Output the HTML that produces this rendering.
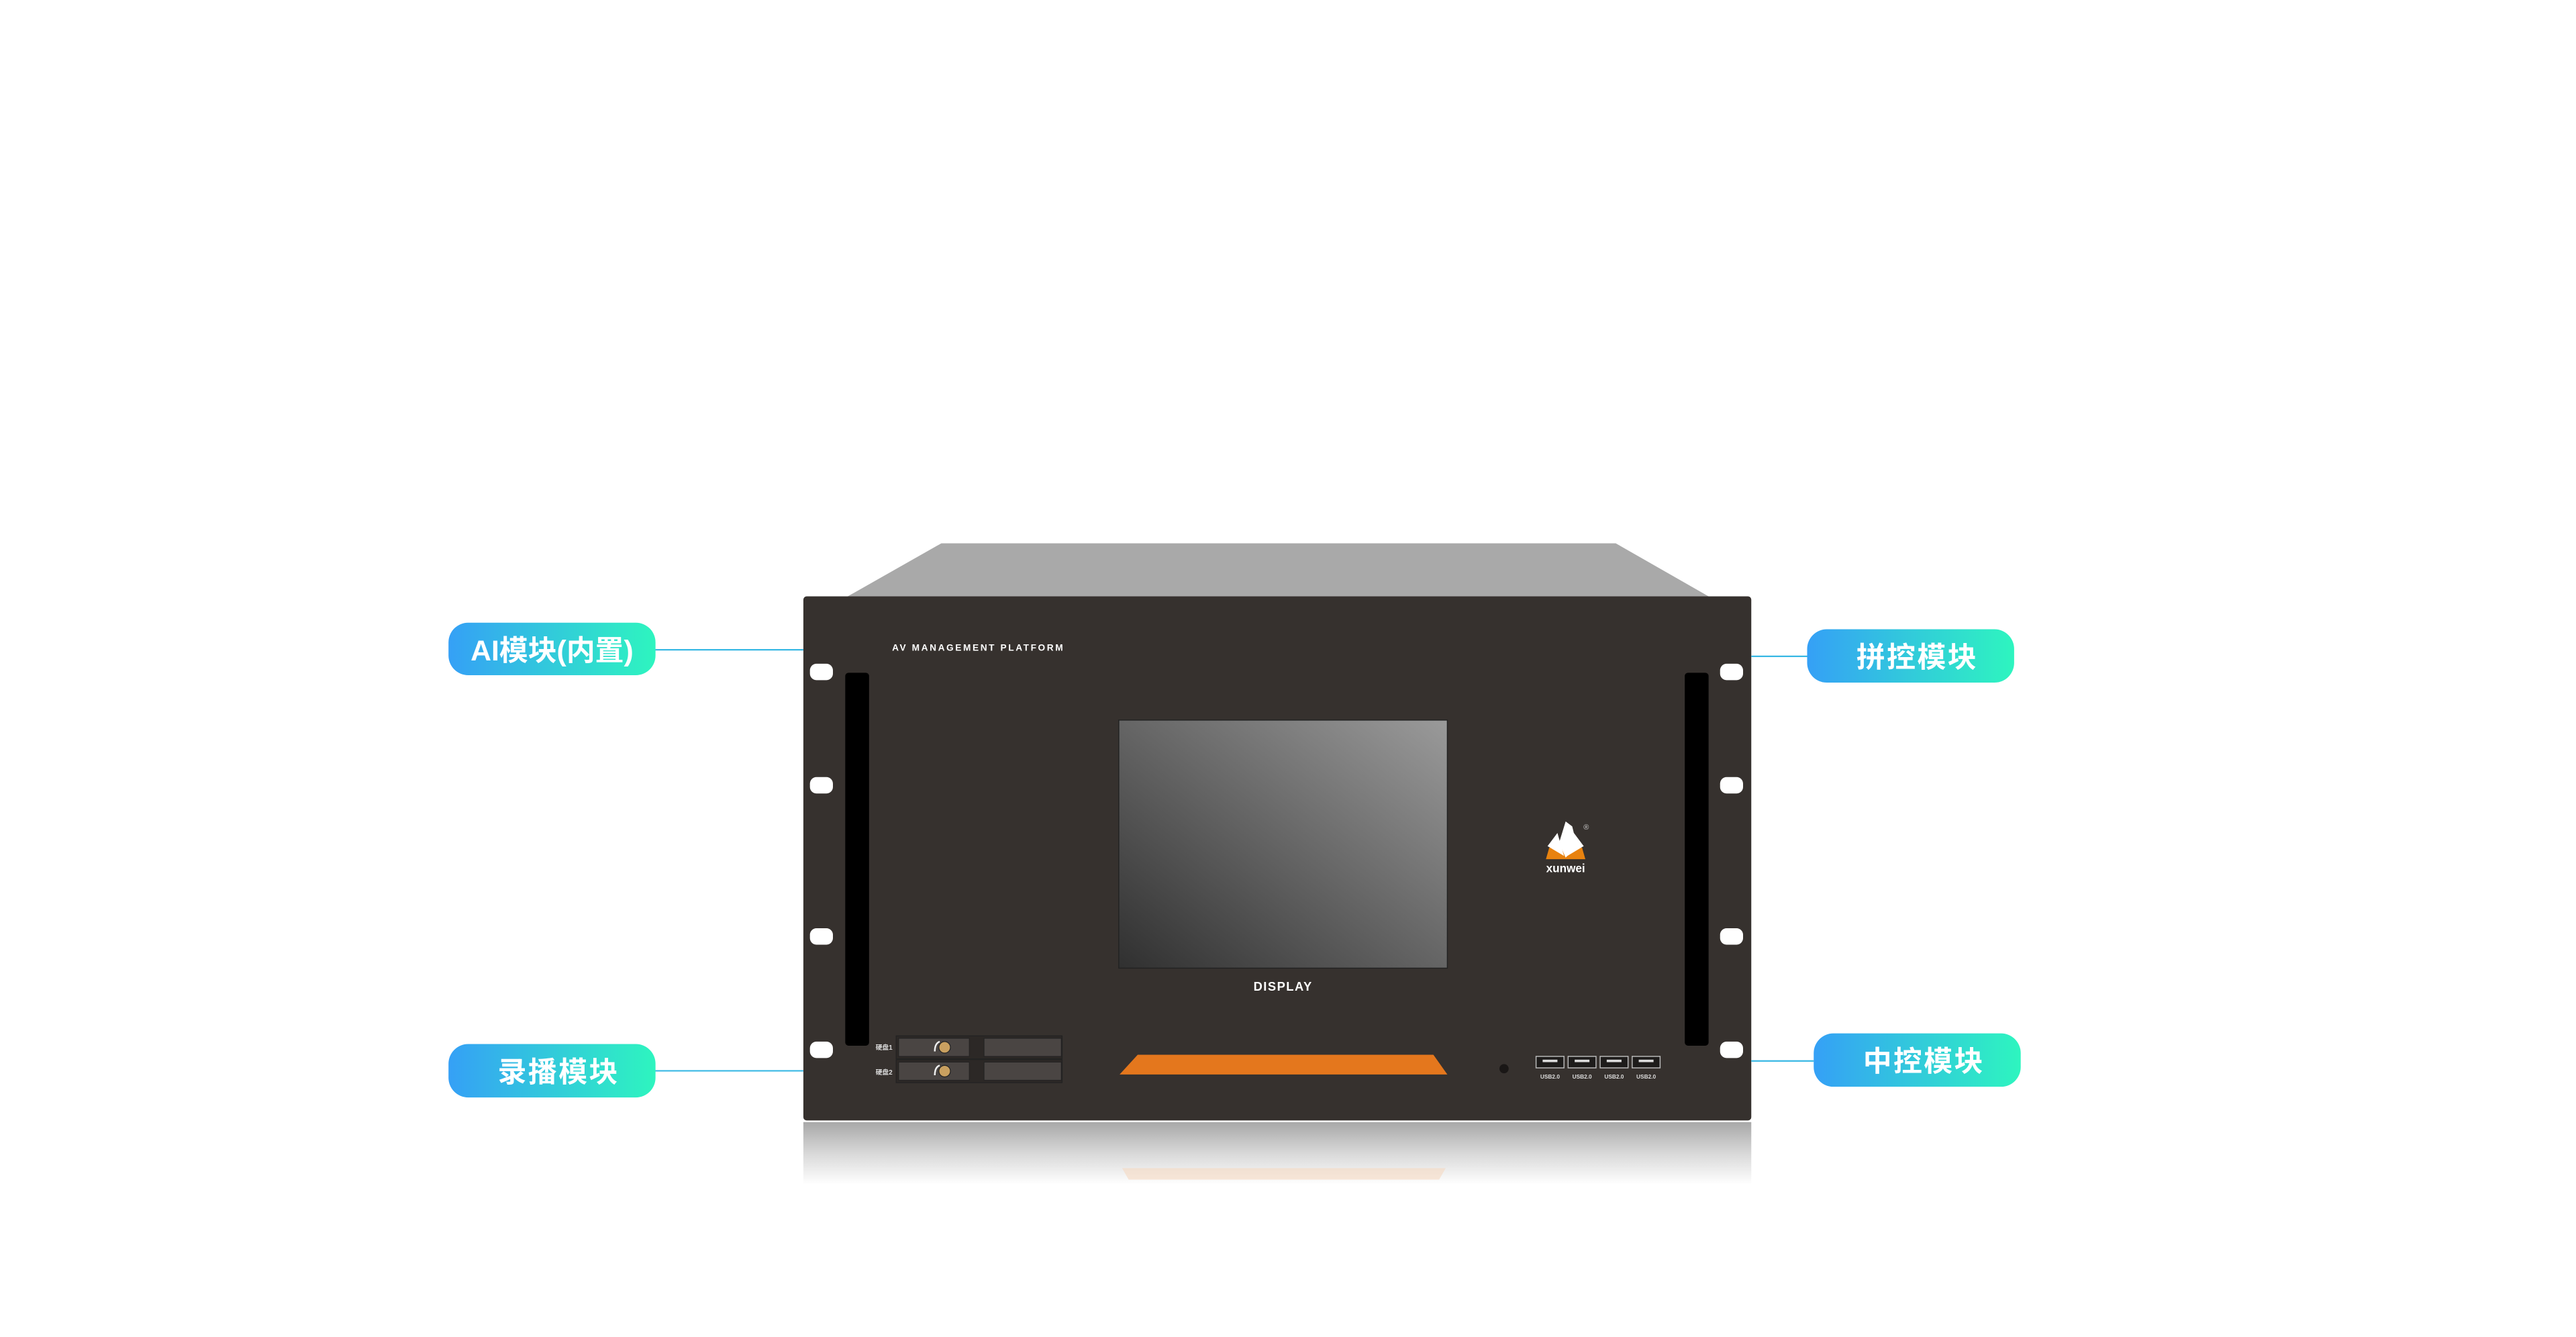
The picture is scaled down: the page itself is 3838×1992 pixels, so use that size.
<!DOCTYPE html>
<html><head><meta charset="utf-8"><style>
html,body{margin:0;padding:0;background:#fff;}
svg{display:block;}
</style></head><body>
<svg width="3838" height="1992" viewBox="0 0 1568 813.8" xmlns="http://www.w3.org/2000/svg">
<defs>
<linearGradient id="pill" x1="0" y1="0" x2="1" y2="0">
<stop offset="0" stop-color="#35a0f6"/><stop offset="1" stop-color="#2ef5bf"/>
</linearGradient>
<linearGradient id="scr" x1="0" y1="1" x2="1" y2="0">
<stop offset="0" stop-color="#303030"/><stop offset="1" stop-color="#9a9a9a"/>
</linearGradient>
<linearGradient id="refl" x1="0" y1="0" x2="0" y2="1">
<stop offset="0" stop-color="#a8a8a8"/><stop offset="0.5" stop-color="#d8d8d8"/><stop offset="1" stop-color="#ffffff"/>
</linearGradient>
</defs>
<rect width="1568" height="814" fill="#fff"/>
<polygon points="573,330.7 983.5,330.7 1040,363 516,363" fill="#a9a9a9"/>
<rect x="489" y="683" width="577" height="38" fill="url(#refl)"/>
<polygon points="683,711 880,711 876,718 687,718" fill="#f5d9c2" opacity="0.6"/>
<rect x="489" y="363" width="577" height="319" rx="2" fill="#36312e"/>
<g stroke="#38b8e4" stroke-width="0.9">
<line x1="398" y1="395.5" x2="489" y2="395.5"/>
<line x1="398" y1="651.8" x2="489" y2="651.8"/>
<line x1="1066" y1="399.5" x2="1100" y2="399.5"/>
<line x1="1066" y1="645.8" x2="1104" y2="645.8"/>
</g>
<g font-family="Liberation Sans, Noto Sans CJK SC, sans-serif" font-weight="bold" fill="#fff" text-anchor="middle">
<rect x="273" y="379" width="126" height="32" rx="12" fill="url(#pill)"/>
<text x="336" y="402" font-size="17.5">AI模块(内置)</text>
<rect x="273" y="635.5" width="126" height="32.5" rx="12" fill="url(#pill)"/>
<text x="340" y="658.5" font-size="17.5" letter-spacing="1">录播模块</text>
<rect x="1100" y="383" width="126" height="32.5" rx="12" fill="url(#pill)"/>
<text x="1167" y="406" font-size="17.5" letter-spacing="1">拼控模块</text>
<rect x="1104" y="629" width="126" height="32.5" rx="12" fill="url(#pill)"/>
<text x="1171" y="652" font-size="17.5" letter-spacing="1">中控模块</text>
</g>
<rect x="514.5" y="409.5" width="14.5" height="227" rx="2" fill="#000"/>
<rect x="1025.5" y="409.5" width="14.5" height="227" rx="2" fill="#000"/>
<g fill="#fff">
<rect x="493" y="404" width="14" height="10" rx="4"/>
<rect x="493" y="473" width="14" height="10" rx="4"/>
<rect x="493" y="565" width="14" height="10" rx="4"/>
<rect x="493" y="634" width="14" height="10" rx="4"/>
<rect x="1047" y="404" width="14" height="10" rx="4"/>
<rect x="1047" y="473" width="14" height="10" rx="4"/>
<rect x="1047" y="565" width="14" height="10" rx="4"/>
<rect x="1047" y="634" width="14" height="10" rx="4"/>
</g>
<text x="543" y="396" font-family="Liberation Sans, sans-serif" font-weight="bold" font-size="5.6" fill="#fff" textLength="104" lengthAdjust="spacing">AV MANAGEMENT PLATFORM</text>
<rect x="681" y="438.3" width="200" height="151" fill="url(#scr)" stroke="#222" stroke-width="0.6"/>
<text x="781" y="603" font-family="Liberation Sans, sans-serif" font-weight="bold" font-size="7.5" fill="#fff" text-anchor="middle" letter-spacing="0.6">DISPLAY</text>
<polygon points="692.5,642 872.5,642 881,654 681.5,654" fill="#e4771d"/>
<g font-family="Liberation Sans, Noto Sans CJK SC, sans-serif" font-size="4" fill="#ddd" font-weight="bold">
<text x="533" y="639">硬盘1</text><text x="533" y="654">硬盘2</text>
</g>
<g>
<rect x="545.5" y="630.5" width="101" height="14" fill="#2c2826" stroke="#222" stroke-width="0.5"/>
<rect x="547" y="632" width="43" height="11" fill="#4a4543" stroke="#222" stroke-width="0.4"/>
<rect x="599" y="632" width="47" height="11" fill="#4a4543" stroke="#222" stroke-width="0.4"/>
<circle cx="575" cy="637.5" r="3.5" fill="#c9a060" stroke="#222" stroke-width="0.5"/>
<path d="M569,640 Q569,635 572,634" stroke="#eee" stroke-width="1" fill="none"/>
<rect x="545.5" y="645" width="101" height="14" fill="#2c2826" stroke="#222" stroke-width="0.5"/>
<rect x="547" y="646.5" width="43" height="11" fill="#4a4543" stroke="#222" stroke-width="0.4"/>
<rect x="599" y="646.5" width="47" height="11" fill="#4a4543" stroke="#222" stroke-width="0.4"/>
<circle cx="575" cy="652" r="3.5" fill="#c9a060" stroke="#222" stroke-width="0.5"/>
<path d="M569,654.5 Q569,649.5 572,648.5" stroke="#eee" stroke-width="1" fill="none"/>
</g>
<g>
<polygon points="941,523 965,523 963,516 943,516" fill="#e8820f"/>
<polygon points="953,500 957,503 960,515 953,522 949,513" fill="#fff"/>
<polygon points="942,515 948,507 952,521" fill="#fff"/>
<polygon points="964,515 958,507 954,521" fill="#fff"/>
<text x="953" y="531" font-family="Liberation Sans, sans-serif" font-weight="bold" font-size="7" fill="#fff" text-anchor="middle">xunwei</text>
<text x="965.5" y="505" font-family="Liberation Sans, sans-serif" font-size="4.5" fill="#ccc" text-anchor="middle">®</text>
</g>
<circle cx="915.5" cy="650.5" r="2.8" fill="#1a1716"/>
<g fill="#1e1c1b" stroke="#bbb" stroke-width="0.6">
<rect x="935" y="643" width="17" height="7"/>
<rect x="954.5" y="643" width="17" height="7"/>
<rect x="974" y="643" width="17" height="7"/>
<rect x="993.5" y="643" width="17" height="7"/>
</g>
<g fill="#ddd">
<rect x="939" y="645" width="9" height="1.5"/><rect x="958.5" y="645" width="9" height="1.5"/>
<rect x="978" y="645" width="9" height="1.5"/><rect x="997.5" y="645" width="9" height="1.5"/>
</g>
<g font-family="Liberation Sans, sans-serif" font-weight="bold" font-size="3.4" fill="#ddd" text-anchor="middle">
<text x="943.5" y="656.5">USB2.0</text><text x="963" y="656.5">USB2.0</text>
<text x="982.5" y="656.5">USB2.0</text><text x="1002" y="656.5">USB2.0</text>
</g>
</svg>
</body></html>
